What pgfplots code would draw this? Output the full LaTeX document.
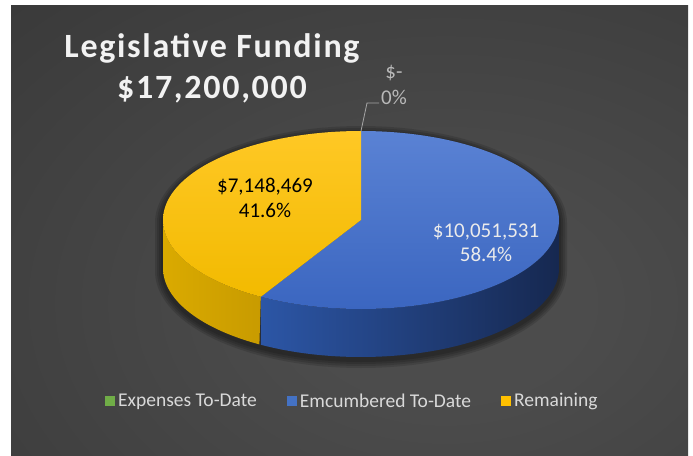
\documentclass[border=0pt]{standalone}
\usepackage{pgfplots}
\pgfplotsset{compat=1.18}
\usepackage{pgfplotstable}
\usepackage{fontspec}
\setmainfont{Carlito}
\definecolor{bgin}{HTML}{4C4C4C}
\definecolor{bgout}{HTML}{222222}
\definecolor{bluetop}{HTML}{5A82D4}
\definecolor{bluebot}{HTML}{3B66C0}
\definecolor{blueside1}{HTML}{2C56A6}
\definecolor{blueside2}{HTML}{162850}
\definecolor{yeltop}{HTML}{FFC825}
\definecolor{yelbot}{HTML}{F2BA00}
\definecolor{yelside1}{HTML}{DAAA00}
\definecolor{yelside2}{HTML}{C89B00}
\definecolor{piegreen}{HTML}{70AD47}
\definecolor{pieblue}{HTML}{4472C4}
\definecolor{pieyellow}{HTML}{FFC000}
\definecolor{legtext}{HTML}{D9D9D9}
\definecolor{titletext}{HTML}{F2F2F2}
\pgfdeclareradialshading{panelbg}{\pgfpoint{0bp}{0bp}}{color(0bp)=(bgin); color(8bp)=(bgin); color(72bp)=(bgout)}

\pgfplotstableread{
slice value
Expenses 0
Encumbered 10051531
Remaining 7148469
}\pietable
\pgfplotstablegetelem{0}{value}\of\pietable \edef\pieVa{\pgfplotsretval}
\pgfplotstablegetelem{1}{value}\of\pietable \edef\pieVb{\pgfplotsretval}
\pgfplotstablegetelem{2}{value}\of\pietable \edef\pieVc{\pgfplotsretval}
\edef\pieTot{\fpeval{\pieVa+\pieVb+\pieVc}}
\edef\pieAa{90}
\edef\pieAb{\fpeval{90-360*\pieVa/\pieTot}}
\edef\pieAc{\fpeval{\pieAb-360*\pieVb/\pieTot}}
\edef\pieAd{\fpeval{\pieAc-360*\pieVc/\pieTot}}
% visible side wall ranges
\edef\blueSa{\pieAc}
\edef\blueSb{\fpeval{min(\pieAb,0)}}
\edef\yelSa{\fpeval{max(\pieAd,-180)}}
\edef\yelSb{\pieAc}

\def\pieCX{361}
\def\pieCY{220}
\def\pieRX{198}
\def\pieRY{89}
\def\pieDep{48}

\begin{document}
\begin{tikzpicture}
% background
\fill[white] (0,0) rectangle (693bp,456bp);
\begin{scope}
\clip (11bp,0bp) rectangle (688bp,450bp);
\shade[shading=panelbg] (11bp,-144bp) rectangle (880bp,450bp);
\end{scope}
\begin{axis}[
  at={(0,0)}, anchor=south west,
  scale only axis, width=693bp, height=456bp,
  xmin=0, xmax=693, ymin=0, ymax=456, y dir=reverse,
  hide axis, clip=false,
  legend style={at={(axis cs:105,401)}, anchor=west, draw=none, fill=none,
    text=legtext, font=\fontsize{19.5bp}{22bp}\selectfont, inner sep=0pt,
    nodes={inner sep=3bp},
    /tikz/every even column/.append style={column sep=27bp}},
  legend columns=3, legend cell align=left,
  legend image code/.code={\fill[#1] (0bp,-5bp) rectangle (10bp,5bp);},
]
\addlegendimage{fill=piegreen, draw=none}
\addlegendentry{Expenses To-Date}
\addlegendimage{fill=pieblue, draw=none}
\addlegendentry{Emcumbered To-Date}
\addlegendimage{fill=pieyellow, draw=none}
\addlegendentry{Remaining}

% soft shadow below the pie
\pgfplotsinvokeforeach{8,6,4,2}{
\addplot[forget plot, draw=none, fill=black, fill opacity=0.13, domain=0:360, samples=241, variable=\t]
 ({\pieCX+(\pieRX+#1)*cos(\t)},
  {\pieCY+3-(\pieRY+#1)*sin(\t)+\pieDep*(\t>180)});
}

% side walls
\addplot[forget plot, draw=none, left color=yelside1, right color=yelside2, domain=0:2, samples=241, variable=\s]
 ({\pieCX+\pieRX*cos(\s<=1 ? (\yelSa)+((\yelSb)-(\yelSa))*\s : (\yelSb)-((\yelSb)-(\yelSa))*(\s-1))},
  {\pieCY-\pieRY*sin(\s<=1 ? (\yelSa)+((\yelSb)-(\yelSa))*\s : (\yelSb)-((\yelSb)-(\yelSa))*(\s-1))+\pieDep*(\s>1)});
\addplot[forget plot, draw=none, left color=blueside1, right color=blueside2, domain=0:2, samples=241, variable=\s]
 ({\pieCX+\pieRX*cos(\s<=1 ? (\blueSa)+((\blueSb)-(\blueSa))*\s : (\blueSb)-((\blueSb)-(\blueSa))*(\s-1))},
  {\pieCY-\pieRY*sin(\s<=1 ? (\blueSa)+((\blueSb)-(\blueSa))*\s : (\blueSb)-((\blueSb)-(\blueSa))*(\s-1))+\pieDep*(\s>1)});

% top faces
\addplot[forget plot, draw=none, top color=bluetop, bottom color=bluebot, domain=-0.1:1.1, samples=241, variable=\s]
 ({\pieCX+((\s<0 || \s>1) ? 0 : 1)*\pieRX*cos((\pieAb)+((\pieAc)-(\pieAb))*\s)},
  {\pieCY-((\s<0 || \s>1) ? 0 : 1)*\pieRY*sin((\pieAb)+((\pieAc)-(\pieAb))*\s)});
\addplot[forget plot, draw=none, top color=yeltop, bottom color=yelbot, domain=-0.1:1.1, samples=241, variable=\s]
 ({\pieCX+((\s<0 || \s>1) ? 0 : 1)*\pieRX*cos((\pieAc)+((\pieAd)-(\pieAc))*\s)},
  {\pieCY-((\s<0 || \s>1) ? 0 : 1)*\pieRY*sin((\pieAc)+((\pieAd)-(\pieAc))*\s)});

% leader line for the zero slice
\addplot[forget plot, draw=gray!70, line width=0.8bp] coordinates {(361,131) (367,103) (379,103)};

% data labels
\node[align=center, text=white!92!black, font=\fontsize{21bp}{24bp}\selectfont] at (axis cs:486,243) {\$10,051,531\\58.4\%};
\node[align=center, text=black, font=\fontsize{21bp}{25bp}\selectfont] at (axis cs:265,198) {\$7,148,469\\41.6\%};
\node[align=center, text=gray!55, font=\fontsize{21bp}{26bp}\selectfont] at (axis cs:394,85) {\$-\\0\%};

% title
\node[text=titletext, align=center, font=\fontsize{34bp}{41bp}\selectfont\bfseries\addfontfeatures{LetterSpace=5}] at (axis cs:212,68) {Legislative Funding\\\$17,200,000};
\end{axis}
\end{tikzpicture}
\end{document}
